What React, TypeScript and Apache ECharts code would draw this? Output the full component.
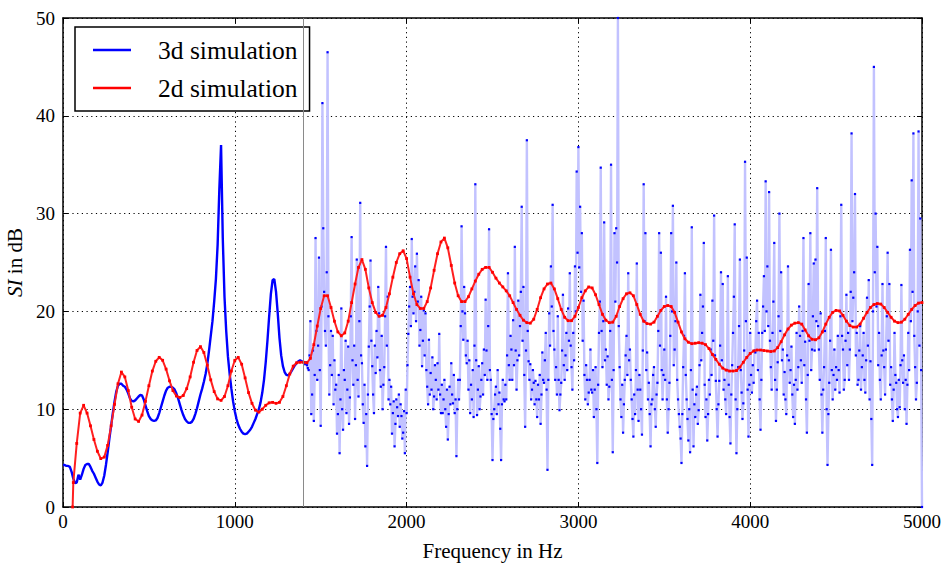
import React, { useEffect, useRef } from "react";
import * as echarts from "echarts";

// ---------- data ----------
const STEP_LOW = 10; // Hz between low-band 3d samples
// 3d simulation, 0 .. 1390 Hz
const level3dLow = [
  4.3, 4.3, 4.2, 4.2, 4.1, 3.6, 2.9, 2.45, 2.5, 3.3,
  2.8, 3.3, 3.9, 4.3, 4.4, 4.4, 4.1, 3.7, 3.4, 3.0,
  2.6, 2.3, 2.2, 2.5, 3.2, 4.3, 5.6, 7.0, 8.3, 9.6,
  10.8, 11.8, 12.4, 12.6, 12.6, 12.4, 12.3, 12.0, 11.6, 11.1,
  10.85, 10.8, 10.9, 11.1, 11.3, 11.45, 11.4, 11.0, 10.4, 9.8,
  9.3, 9.0, 8.85, 8.8, 8.85, 9.1, 9.6, 10.2, 10.8, 11.4,
  11.9, 12.2, 12.3, 12.3, 12.2, 12.0, 11.6, 11.1, 10.5, 9.9,
  9.4, 9.0, 8.75, 8.6, 8.6, 8.7, 9.0, 9.5, 10.1, 10.8,
  11.5, 12.1, 12.8, 13.6, 14.6, 16.0, 17.5, 19.0, 21.0, 23.3,
  26.8, 32.5, 37.0, 27.5, 21.5, 18.0, 15.4, 13.6, 12.1, 10.8,
  9.8, 9.0, 8.4, 8.0, 7.7, 7.5, 7.45, 7.5, 7.7, 7.9,
  8.2, 8.6, 9.0, 9.5, 10.0, 10.7, 11.7, 13.0, 14.8, 17.0,
  19.5, 21.8, 23.2, 23.3, 22.0, 19.8, 17.3, 15.5, 14.4, 13.8,
  13.5, 13.45, 13.6, 13.9, 14.2, 14.5, 14.7, 14.9, 15.0, 14.9,
];
// 3d simulation, 1400 .. 5000 Hz every 5 Hz (each row: +5 .. +100 Hz)
const HIGH_START = 1400;
const STEP_HIGH = 5;
const level3dHigh = [
  14.8,
  14.7, 14.6, 14.8, 14.5, 14.2, 14.0, 15.5, 19.0, 9.5, 11.5, 16.0, 8.8, 13.5, 27.5, 18.0, 13.0, 16.5, 25.5, 14.0, 8.3,
  20.5, 41.3, 28.5, 22.0, 18.0, 16.5, 24.0, 46.5, 19.5, 11.5, 14.5, 18.0, 13.5, 17.5, 10.5, 15.0, 12.0, 12.5, 7.5, 9.5,
  13.5, 5.5, 11.0, 20.3, 10.0, 7.9, 14.0, 13.0, 17.0, 9.6, 12.0, 16.4, 8.5, 11.2, 19.5, 27.6, 15.0, 12.5, 16.5, 9.0,
  14.5, 25.3, 13.0, 11.3, 19.0, 31.1, 15.5, 14.7, 10.5, 8.6, 12.5, 6.2, 9.5, 4.2, 11.5, 16.4, 20.5, 25.2, 17.0, 14.4,
  11.5, 9.6, 16.5, 13.7, 18.0, 15.3, 22.5, 19.8, 14.0, 12.3, 17.5, 10.0, 12.5, 14.3, 19.5, 26.6, 16.5, 21.5, 11.0, 13.0,
  10.5, 12.3, 7.5, 9.6, 10.8, 6.2, 8.5, 11.0, 10.2, 9.3, 11.5, 8.2, 10.5, 9.3, 7.0, 7.6, 9.8, 5.5, 12.0, 9.6,
  14.5, 17.7, 20.5, 22.5, 18.5, 27.4, 21.5, 19.8, 22.0, 24.6, 19.0, 25.9, 21.0, 23.2, 16.5, 18.1, 21.5, 14.4, 17.0, 20.1,
  15.5, 19.8, 14.0, 12.3, 10.5, 17.1, 11.5, 13.7, 12.0, 15.3, 10.0, 11.3, 14.5, 13.0, 11.0, 14.7, 12.0, 17.7, 11.5, 9.6,
  12.5, 9.6, 11.0, 13.0, 10.0, 8.2, 12.0, 6.9, 9.5, 12.3, 10.5, 14.7, 11.5, 10.6, 13.5, 9.6, 11.0, 5.2, 10.0, 13.0,
  11.0, 13.0, 18.5, 28.7, 20.0, 17.1, 22.5, 19.8, 15.5, 14.7, 17.0, 12.0, 15.0, 9.6, 12.5, 11.0, 14.0, 9.2, 16.5, 33.0,
  15.0, 9.4, 12.0, 14.4, 10.0, 11.3, 13.0, 14.7, 11.5, 16.1, 13.5, 21.2, 16.0, 13.0, 18.5, 28.4, 14.0, 13.0, 9.5, 4.8,
  9.0, 10.0, 11.5, 12.3, 9.5, 14.0, 10.5, 11.7, 8.0, 4.8, 10.5, 13.0, 11.0, 10.8, 12.5, 11.0, 15.5, 23.9, 14.5, 13.0,
  17.5, 16.1, 13.0, 19.1, 14.5, 26.6, 16.0, 12.0, 15.0, 21.1, 15.5, 18.5, 22.0, 30.7, 17.0, 22.5, 13.5, 8.2, 16.0, 37.5,
  18.0, 14.9, 13.0, 14.6, 11.0, 12.0, 14.0, 12.7, 10.5, 12.9, 11.0, 9.2, 12.5, 11.0, 13.5, 8.5, 11.5, 15.8, 13.0, 12.7,
  15.0, 17.8, 12.0, 3.8, 13.0, 19.8, 16.5, 24.6, 20.5, 30.9, 18.0, 16.1, 13.0, 14.3, 11.5, 19.5, 13.0, 9.9, 11.5, 12.7,
  16.0, 21.7, 14.5, 13.0, 15.5, 17.8, 14.0, 20.3, 17.0, 23.9, 16.5, 14.3, 12.0, 17.8, 15.0, 24.6, 20.0, 34.3, 26.0, 36.8,
  24.5, 30.7, 22.0, 28.0, 17.0, 21.1, 13.5, 11.0, 14.5, 13.0, 10.5, 11.7, 13.0, 16.1, 12.0, 11.7, 14.0, 9.2, 12.0, 14.3,
  10.0, 4.5, 12.5, 17.8, 21.0, 34.7, 18.0, 14.3, 19.0, 29.1, 15.0, 16.1, 12.5, 15.4, 11.0, 12.3, 18.0, 35.0, 13.0, 5.6,
  14.0, 28.0, 21.0, 28.5, 25.0, 50.0, 18.5, 14.3, 11.0, 9.2, 12.5, 7.6, 10.5, 13.0, 15.5, 17.5, 13.5, 23.9, 15.0, 16.1,
  13.0, 11.0, 9.0, 7.2, 11.5, 9.5, 14.0, 24.9, 12.0, 8.8, 13.5, 12.0, 10.0, 7.4, 16.0, 33.0, 19.0, 28.0, 14.0, 15.8,
  11.0, 12.7, 9.5, 6.2, 10.5, 11.0, 13.5, 14.3, 10.0, 8.2, 11.5, 12.7, 18.0, 28.0, 16.5, 26.0, 14.0, 11.0, 13.5, 16.1,
  13.0, 21.5, 11.0, 7.6, 10.0, 12.7, 17.5, 28.0, 20.0, 30.8, 14.5, 16.1, 19.0, 25.0, 13.0, 11.0, 9.5, 8.2, 7.0, 4.5,
  9.5, 14.3, 17.5, 23.9, 13.5, 11.0, 9.0, 6.8, 10.0, 5.6, 14.0, 28.6, 12.0, 6.2, 10.5, 9.2, 11.5, 12.3, 8.5, 9.9,
  14.5, 21.7, 15.0, 17.8, 20.5, 27.0, 12.5, 9.2, 11.0, 6.8, 9.5, 13.0, 11.5, 16.1, 13.5, 21.1, 17.0, 29.8, 15.5, 12.9,
  10.0, 7.2, 10.5, 12.9, 16.5, 24.0, 15.0, 22.8, 12.0, 13.0, 11.0, 9.5, 14.0, 23.6, 12.5, 9.2, 6.5, 11.5, 14.5, 17.8,
  21.5, 28.9, 11.0, 5.5, 10.0, 14.3, 18.5, 25.3, 14.0, 11.7, 9.0, 10.6, 16.0, 35.3, 19.0, 25.5, 12.0, 7.2, 12.5, 17.8,
  13.5, 11.7, 14.5, 12.7, 16.0, 15.8, 19.0, 21.1, 14.0, 17.8, 11.0, 7.9, 13.0, 17.8, 20.5, 23.6, 18.0, 33.3, 20.0, 24.6,
  18.5, 32.2, 17.0, 14.3, 12.0, 17.8, 21.0, 27.0, 13.0, 8.8, 12.0, 14.8, 19.5, 30.0, 18.0, 24.0, 15.0, 16.1, 11.5, 13.8,
  11.0, 9.5, 15.5, 24.6, 15.0, 12.7, 14.0, 16.4, 11.5, 9.2, 12.5, 8.5, 13.0, 17.8, 12.0, 14.3, 20.5, 17.5, 15.0, 12.7,
  18.0, 27.5, 14.5, 16.9, 11.0, 7.6, 13.5, 22.8, 17.0, 28.0, 14.0, 16.1, 19.5, 24.9, 16.0, 25.3, 19.0, 32.6, 18.5, 16.1,
  13.0, 19.8, 11.5, 7.6, 12.0, 14.3, 18.0, 27.5, 10.0, 4.3, 9.5, 12.7, 17.0, 26.3, 14.0, 11.0, 13.5, 16.1, 12.0, 14.3,
  13.0, 17.5, 14.0, 11.7, 19.5, 30.9, 17.5, 16.1, 12.0, 13.0, 17.0, 21.7, 14.5, 17.8, 13.0, 16.1, 22.0, 38.2, 19.0, 21.4,
  24.0, 32.0, 15.5, 17.8, 12.5, 13.0, 16.0, 18.5, 12.0, 14.3, 15.5, 17.8, 13.0, 11.7, 15.0, 21.4, 16.5, 23.2, 11.0, 14.9,
  9.0, 4.3, 20.0, 45.0, 24.0, 30.0, 20.5, 26.6, 14.5, 17.8, 13.0, 11.0, 15.5, 22.8, 16.0, 14.3, 11.5, 16.1, 19.5, 26.0,
  17.0, 22.8, 12.5, 14.3, 11.0, 8.8, 12.0, 17.8, 13.5, 12.7, 10.0, 9.2, 13.0, 10.2, 14.5, 22.7, 15.0, 12.7, 15.5, 10.0,
  13.0, 8.5, 12.5, 17.8, 14.0, 26.3, 19.0, 33.4, 22.0, 38.2, 17.5, 14.3, 11.0, 12.7, 20.0, 38.4, 16.5, 29.5, 14.0, 0.0,
];

// 2d simulation: onset point then 60 .. 5000 Hz every 20 Hz
const onset2d = [56, 0];
const START_2D = 60;
const STEP_2D = 20;
const level2d = [
  2.5, 6.5, 9.6, 10.4, 9.6, 8.3, 6.9, 5.7, 4.95, 5.1,
  6.3, 8.3, 10.5, 12.6, 13.8, 13.3, 11.9, 10.2, 9.0, 8.75,
  9.4, 10.8, 12.4, 13.9, 14.9, 15.3, 15.0, 14.1, 12.9, 11.9,
  11.35, 11.2, 11.4, 12.1, 13.3, 14.8, 16.0, 16.4, 15.8, 14.5,
  13.0, 11.8, 11.05, 10.9, 11.3, 12.4, 13.9, 15.0, 15.3, 14.6,
  13.2, 11.7, 10.6, 9.9, 9.7, 10.0, 10.4, 10.65, 10.7, 10.6,
  10.7, 11.3, 12.4, 13.6, 14.4, 14.75, 14.8, 14.8, 14.75, 15.2,
  16.6, 18.5, 20.3, 21.6, 21.6, 20.4, 19.0, 17.9, 17.5, 17.8,
  19.0, 20.9, 22.8, 24.5, 25.3, 24.3, 22.4, 20.9, 19.9, 19.5,
  19.6, 20.4, 21.8, 23.5, 25.0, 25.9, 26.2, 25.4, 23.5, 21.8,
  20.7, 20.3, 20.3, 21.0, 22.4, 24.2, 25.9, 27.1, 27.5, 26.5,
  24.7, 22.9, 21.6, 21.0, 21.0, 21.5, 22.3, 23.1, 23.8, 24.3,
  24.5, 24.5, 24.0, 23.4, 22.9, 22.5, 22.1, 21.6, 20.9, 20.2,
  19.6, 19.1, 18.85, 18.8, 19.2, 20.2, 21.4, 22.3, 22.8, 22.9,
  22.3, 21.3, 20.2, 19.4, 19.05, 19.05, 19.5, 20.4, 21.4, 22.1,
  22.5, 22.4, 21.7, 20.7, 19.7, 19.1, 18.85, 18.9, 19.5, 20.5,
  21.3, 21.8, 21.9, 21.6, 20.7, 19.7, 19.0, 18.75, 18.7, 18.9,
  19.5, 20.1, 20.5, 20.6, 20.5, 19.9, 18.9, 17.9, 17.2, 16.85,
  16.7, 16.75, 16.8, 16.75, 16.6, 16.2, 15.6, 15.1, 14.6, 14.2,
  14.0, 13.9, 13.9, 13.95, 14.3, 14.8, 15.3, 15.7, 15.95, 16.05,
  16.05, 16.0, 15.95, 15.9, 15.95, 16.3, 16.9, 17.6, 18.2, 18.6,
  18.8, 18.85, 18.7, 18.1, 17.5, 17.15, 17.1, 17.3, 17.9, 18.7,
  19.4, 19.9, 20.1, 20.05, 19.6, 19.0, 18.55, 18.4, 18.4, 18.7,
  19.3, 19.9, 20.4, 20.7, 20.8, 20.75, 20.4, 19.9, 19.4, 19.0,
  18.85, 18.9, 19.2, 19.7, 20.2, 20.6, 20.85, 20.9,
];

const SPLIT_FREQ = 1400; // boundary marker line
const xLabelValues = [0, 1000, 2000, 3000, 4000, 5000];
const yLabelValues = [0, 10, 20, 30, 40, 50];

const FONT = "'Liberation Serif', 'DejaVu Serif', serif";

export default function App() {
  const ref = useRef<HTMLDivElement>(null);

  useEffect(() => {
    document.body.style.margin = "0";
    if (!ref.current) return;
    const chart = echarts.init(ref.current, undefined, { renderer: "svg" });

    const low = level3dLow.map((v, i) => [i * STEP_LOW, v]);
    low.push([HIGH_START, level3dHigh[0]]);
    const high = level3dHigh.map((v, i) => [HIGH_START + i * STEP_HIGH, v]);
    const red = [onset2d, ...level2d.map((v, i) => [START_2D + i * STEP_2D, v])];

    const tickText = { color: "#000", fontFamily: FONT, fontSize: 19 };
    const nameText = { color: "#000", fontFamily: FONT, fontSize: 21 };
    const dotted = { color: "#000", type: [1.2, 3.5], width: 1 };

    chart.setOption({
      animation: false,
      backgroundColor: "#fff",
      grid: { left: 63, right: 25, top: 18, bottom: 60, containLabel: false, outerBoundsMode: "none" },
      legend: {
        left: 75,
        top: 27,
        orient: "vertical",
        backgroundColor: "#fff",
        borderColor: "#000",
        borderWidth: 1.5,
        borderRadius: 0,
        padding: [10, 12, 10, 18],
        itemGap: 12,
        itemWidth: 38,
        itemHeight: 2.5,
        selectedMode: false,
        textStyle: { fontFamily: FONT, fontSize: 25.5, color: "#000", padding: [0, 0, 0, 22] },
        data: [
          { name: "3d simulation", icon: "rect", itemStyle: { color: "#0000ff" } },
          { name: "2d simulation", icon: "rect", itemStyle: { color: "#ff0000" } },
        ],
      },
      xAxis: [
        {
          type: "value",
          min: 0,
          max: 5000,
          interval: 500,
          name: "Frequency in Hz",
          nameLocation: "middle",
          nameGap: 33,
          nameTextStyle: { ...nameText },
          axisLine: { show: true, onZero: false, lineStyle: { color: "#000", width: 1.5 } },
          axisTick: { show: true, inside: true, length: 5, customValues: xLabelValues, lineStyle: { color: "#000" } },
          axisLabel: {
            ...tickText,
            margin: 5,
            formatter: (v: number) => (xLabelValues.includes(v) ? String(v) : ""),
          },
          splitLine: { show: true, lineStyle: dotted },
        },
        {
          type: "value",
          position: "top",
          min: 0,
          max: 5000,
          interval: 500,
          axisLine: { show: true, onZero: false, lineStyle: { color: "#000", width: 1.5 } },
          axisTick: { show: true, inside: true, length: 5, customValues: xLabelValues, lineStyle: { color: "#000" } },
          axisLabel: { show: false },
          splitLine: { show: false },
        },
      ],
      yAxis: [
        {
          type: "value",
          min: 0,
          max: 50,
          interval: 5,
          name: "{i|SI} in dB",
          nameLocation: "middle",
          nameGap: 36,
          nameTextStyle: {
            ...nameText,
            rich: { i: { fontFamily: FONT, fontSize: 21, fontStyle: "italic", color: "#000" } },
          },
          axisLine: { show: true, onZero: false, lineStyle: { color: "#000", width: 1.5 } },
          axisTick: { show: true, inside: true, length: 5, customValues: yLabelValues, lineStyle: { color: "#000" } },
          axisLabel: {
            ...tickText,
            margin: 8,
            formatter: (v: number) => (yLabelValues.includes(v) ? String(v) : ""),
          },
          splitLine: { show: true, lineStyle: dotted },
        },
        {
          type: "value",
          position: "right",
          min: 0,
          max: 50,
          interval: 5,
          axisLine: { show: true, onZero: false, lineStyle: { color: "#000", width: 1.5 } },
          axisTick: { show: true, inside: true, length: 5, customValues: yLabelValues, lineStyle: { color: "#000" } },
          axisLabel: { show: false },
          splitLine: { show: false },
        },
      ],
      series: [
        {
          name: "3d simulation",
          type: "line",
          data: low,
          showSymbol: false,
          itemStyle: { color: "#0000ff" },
          lineStyle: { color: "#0000ff", width: 2.4 },
          z: 3,
          markLine: {
            silent: true,
            symbol: ["none", "none"],
            label: { show: false },
            lineStyle: { color: "#8a8a8a", type: "solid", width: 1 },
            data: [{ xAxis: SPLIT_FREQ }],
          },
        },
        {
          name: "3d simulation",
          type: "line",
          data: high,
          showSymbol: true,
          showAllSymbol: true,
          symbol: "rect",
          symbolSize: 2.2,
          itemStyle: { color: "#0000ff" },
          lineStyle: { color: "#c2c2ff", width: 2.4 },
          z: 2,
        },
        {
          name: "2d simulation",
          type: "line",
          data: red,
          showSymbol: true,
          showAllSymbol: true,
          symbol: "rect",
          symbolSize: 2.8,
          itemStyle: { color: "#ff0000" },
          lineStyle: { color: "#ff2020", width: 2 },
          z: 4,
        },
      ],
    });

    return () => chart.dispose();
  }, []);

  return <div ref={ref} style={{ width: 947, height: 567 }} />;
}
